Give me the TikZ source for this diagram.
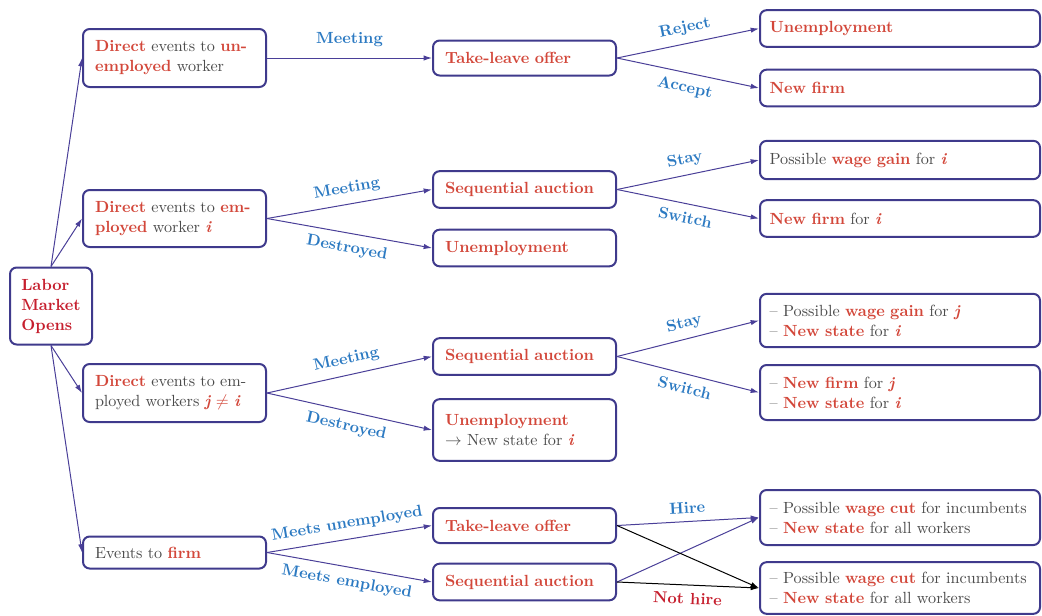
\documentclass[tikz,border=0pt]{standalone}
\usepackage{fontspec}
\usepackage{xcolor}
\usepackage{tikz}
\usetikzlibrary{
  arrows.meta,
  positioning
}
\definecolor{BoxIndigo}{HTML}{3F3A8C}
\definecolor{LinkIndigo}{HTML}{4A3F98}
\definecolor{KeyRed}{HTML}{D3473A}
\definecolor{DeepRed}{HTML}{C61F2E}
\definecolor{LabelBlue}{HTML}{2C7AC2}
\definecolor{BodyGray}{HTML}{4B4B4B}
\newcommand{\keyw}[1]{\textbf{\color{KeyRed}#1}}
\newcommand{\keyv}[1]{\textbf{\textit{\color{KeyRed}#1}}}
\newcommand{\boxfont}{\fontsize{9.7}{12}\selectfont}
\tikzset{
  % Event box: fixed width, auto height
  cell/.style={
    rectangle, rounded corners=4pt,
    draw=BoxIndigo, line width=1.2pt, fill=white,
    text width=#1, inner xsep=7.2pt, inner ysep=3pt,
    align=left, font=\boxfont, text=BodyGray
  },
  cell/.default=95.4pt,
  % Wide outcome box
  wide/.style={cell=156.4pt, inner xsep=5.8pt},
  % Root box
  root/.style={
    rectangle, rounded corners=4pt,
    draw=BoxIndigo, line width=1.2pt, fill=white,
    minimum width=49.2pt, minimum height=46.2pt,
    align=left, font=\boxfont\bfseries, text=DeepRed
  },
  % Arrow
  arr/.style={
    -{Latex[length=5pt,width=3.2pt]},
    line width=0.6pt, color=#1
  },
  arr/.default=LinkIndigo,
  % Edge label
  lbl/.style={font=\boxfont\bfseries, text=LabelBlue, sloped, inner sep=4.5pt}
}

\begin{document}
\begin{tikzpicture}[x=0.6pt, y=-0.6pt]
  \useasboundingbox (0,0) rectangle (1042,615);

  % root
  \node[root] (market) at (51,306) {Labor\\Market\\Opens};

  % first column
  \node[cell, minimum height=34.8pt] (unemp)  at (174.5,58)    {\keyw{Direct} events to \keyw{un-}\\\keyw{employed} worker};
  \node[cell, minimum height=34.2pt] (empi)   at (174.5,218.5) {\keyw{Direct} events to \keyw{em-}\\\keyw{ployed} worker \keyv{i}};
  \node[cell, minimum height=34.8pt] (empj)   at (174.5,393)   {\keyw{Direct} events to em-\\ployed workers \keyv{j}~{\color{KeyRed}$\neq$}~\keyv{i}};
  \node[cell, minimum height=19.2pt] (firm)   at (174.5,552.5) {Events to \keyw{firm}};

  % second column
  \node[cell, minimum height=21pt] (offerA)   at (524.5,58)    {\keyw{Take-leave offer}};
  \node[cell, minimum height=22pt] (auctA)    at (524.5,189.5) {\keyw{Sequential auction}};
  \node[cell, minimum height=22pt] (lossA)    at (524.5,248)   {\keyw{Unemployment}};
  \node[cell, minimum height=22pt] (auctB)    at (524.5,356.5) {\keyw{Sequential auction}};
  \node[cell, minimum height=37pt] (lossB)    at (524.5,430)   {\keyw{Unemployment}\\$\rightarrow$ New state for \keyv{i}};
  \node[cell, minimum height=21pt] (offerC)   at (524.5,525.5) {\keyw{Take-leave offer}};
  \node[cell, minimum height=22pt] (auctC)    at (524.5,582)   {\keyw{Sequential auction}};

  % third column
  \node[wide, minimum height=22pt] (rejU)     at (900,28.5)  {\keyw{Unemployment}};
  \node[wide, minimum height=22pt] (accF)     at (900,88)    {\keyw{New firm}};
  \node[wide, minimum height=23pt] (stayI)    at (900,160)   {Possible \keyw{wage gain} for \keyv{i}};
  \node[wide, minimum height=22pt] (switchI)  at (900,218.5) {\keyw{New firm} for \keyv{i}};
  \node[wide, minimum height=32pt] (stayJ)    at (900,320.5) {-- Possible \keyw{wage gain} for \keyv{j}\\-- \keyw{New state} for \keyv{i}};
  \node[wide, minimum height=33pt] (switchJ)  at (900,392.5) {-- \keyw{New firm} for \keyv{j}\\-- \keyw{New state} for \keyv{i}};
  \node[wide, minimum height=33pt] (hireW)    at (900,517.5) {-- Possible \keyw{wage cut} for incumbents\\-- \keyw{New state} for all workers};
  \node[wide, minimum height=31pt] (nohireW)  at (900,588)   {-- Possible \keyw{wage cut} for incumbents\\-- \keyw{New state} for all workers};

  % root to first column
  \draw[arr] (market.north) -- (unemp.west);
  \draw[arr] (market.north) -- (empi.west);
  \draw[arr] (market.south) -- (empj.west);
  \draw[arr] (market.south) -- (firm.west);

  % first to second column
  \draw[arr] (unemp.east) -- node[lbl, above=2pt] {Meeting} (offerA.west);
  \draw[arr] (empi.east)  -- node[lbl, above] {Meeting} (auctA.west);
  \draw[arr] (empi.east)  -- node[lbl, below] {Destroyed} (lossA.west);
  \draw[arr] (empj.east)  -- node[lbl, above] {Meeting} (auctB.west);
  \draw[arr] (empj.east)  -- node[lbl, below] {Destroyed} (lossB.west);
  \draw[arr] (firm.east)  -- node[lbl, above] {Meets unemployed} (offerC.west);
  \draw[arr] (firm.east)  -- node[lbl, below] {Meets employed} (auctC.west);

  % second to third column
  \draw[arr] (offerA.east) -- node[lbl, above] {Reject} (rejU.west);
  \draw[arr] (offerA.east) -- node[lbl, below] {Accept} (accF.west);
  \draw[arr] (auctA.east)  -- node[lbl, above] {Stay} (stayI.west);
  \draw[arr] (auctA.east)  -- node[lbl, below] {Switch} (switchI.west);
  \draw[arr] (auctB.east)  -- node[lbl, above] {Stay} (stayJ.west);
  \draw[arr] (auctB.east)  -- node[lbl, below] {Switch} (switchJ.west);
  \draw[arr] (offerC.east) -- node[lbl, above] {Hire} (hireW.west);
  \draw[arr] (auctC.east)  -- (hireW.west);
  \draw[arr=black] (offerC.east) -- (nohireW.west);
  \draw[arr=black] (auctC.east)  -- node[lbl, below, text=DeepRed] {Not hire} (nohireW.west);
\end{tikzpicture}
\end{document}
